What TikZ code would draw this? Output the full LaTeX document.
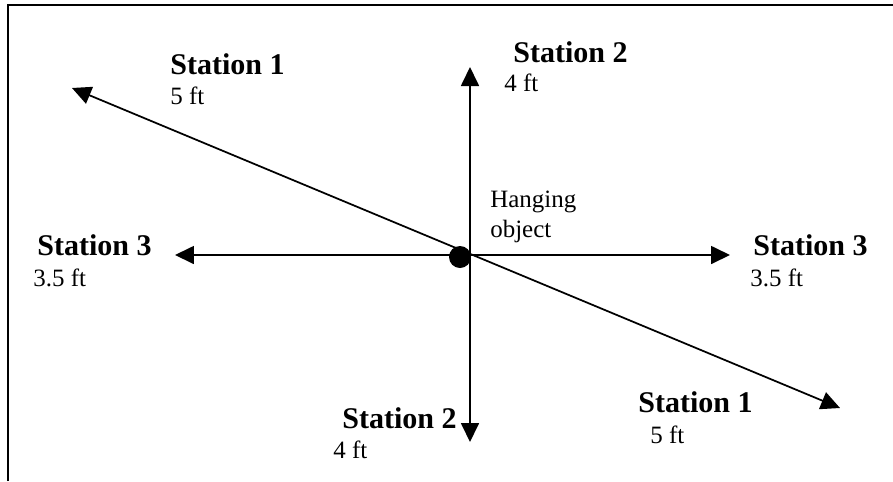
\documentclass[tikz,border=0pt]{standalone}
\usepackage{fontspec}
\setmainfont{Liberation Serif}
\usetikzlibrary{arrows.meta}
\tikzset{
  station/.style={anchor=base west, inner sep=0pt, font=\fontsize{17.1}{20}\selectfont\bfseries},
  dist/.style={anchor=base west, inner sep=0pt, font=\fontsize{14.2}{17}\selectfont},
  axis/.style={line width=1pt, {Triangle[length=0.38cm,width=0.36cm]}-{Triangle[length=0.38cm,width=0.36cm]}}
}
\begin{document}
\begin{tikzpicture}[x=0.02cm, y=-0.02cm]
	%%%%% START %%%%%
	\useasboundingbox (0,0) rectangle (893,481);
	
	\draw[line width=1.2pt] (8,481) -- (8,5) -- (893,5);
	
	\coordinate (s1l) at (72,88);
	\coordinate (s1r) at (840,408);
	\coordinate (s2t) at (470,67);
	\coordinate (s2b) at (470,442);
	\coordinate (s3l) at (175,255);
	\coordinate (s3r) at (730,255);
	
	\draw[axis] (s1l) -- (s1r);
	\draw[axis] (s2t) -- (s2b);
	\draw[axis] (s3l) -- (s3r);
	
	\node[circle, fill=black, minimum size=0.44cm, inner sep=0pt] (obj) at (460,257) {};
	
	\node[dist] (hang) at (490,207) {Hanging};
	\node[dist] (hang2) at (490,237) {object};
	
	\node[station] (st1a) at (170,74) {Station 1};
	\node[dist] (d1a) at (170,104) {5 ft};
	\node[station] (st1b) at (638,412) {Station 1};
	\node[dist] (d1b) at (650,443) {5 ft};
	
	\node[station] (st2a) at (513,62) {Station 2};
	\node[dist] (d2a) at (504,91) {4 ft};
	\node[station] (st2b) at (342,428) {Station 2};
	\node[dist] (d2b) at (333,458) {4 ft};
	
	\node[station] (st3a) at (37,255) {Station 3};
	\node[dist] (d3a) at (33,286) {3.5 ft};
	\node[station] (st3b) at (753,255) {Station 3};
	\node[dist] (d3b) at (750,286) {3.5 ft};
	
	%%%%% END %%%%%
\end{tikzpicture}
\end{document}
